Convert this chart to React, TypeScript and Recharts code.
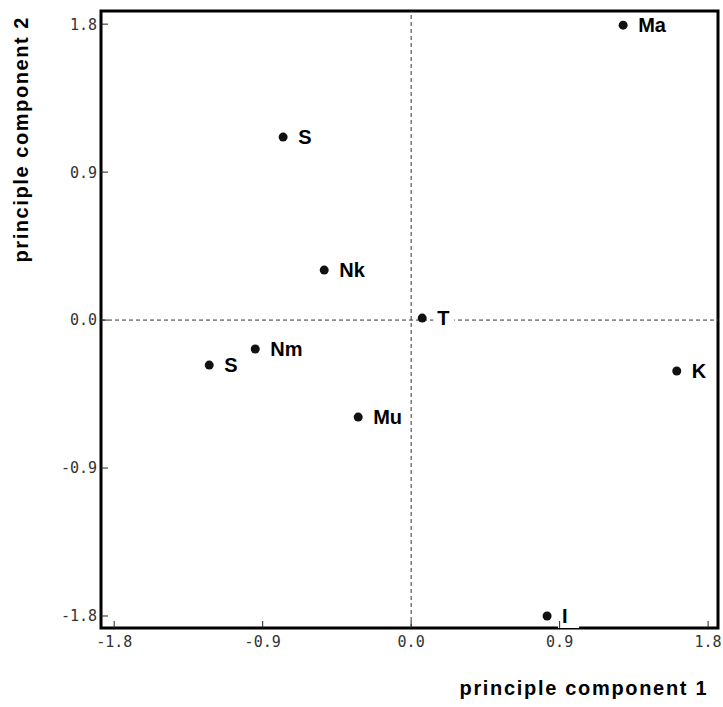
import React from 'react';
import { ScatterChart, Scatter, XAxis, YAxis, ReferenceLine, ReferenceArea } from 'recharts';

// sample names and their scores on the first two components
const names = ['Ma', 'S', 'Nk', 'T', 'Nm', 'S', 'Mu', 'K', 'I'];
const pc1 = [1.285, -0.776, -0.527, 0.067, -0.945, -1.224, -0.321, 1.61, 0.824];
const pc2 = [1.794, 1.113, 0.304, 0.012, -0.176, -0.274, -0.59, -0.31, -1.8];
const ticks = [-1.8, -0.9, 0, 0.9, 1.8];

const xDomain: [number, number] = [-1.88, 1.86];
const yDomain: [number, number] = [-1.873, 1.88];

const points = names.map((name, i) => ({ name, x: pc1[i], y: pc2[i] }));

const tickFont = '"DejaVu Sans Mono", monospace';
const labelFont = '"Liberation Sans", Arial, sans-serif';
const M = 6;

const XTick = (props: any) => {
  const { x, y, payload } = props;
  const ay = y - M;
  return (
    <g>
      <line x1={x} y1={ay} x2={x} y2={ay - 7} stroke="#222" strokeWidth={1} />
      <text x={x} y={ay + 19} textAnchor="middle" fontFamily={tickFont} fontSize={15} fill="#333">
        {payload.value.toFixed(1)}
      </text>
    </g>
  );
};

const YTick = (props: any) => {
  const { x, y, payload } = props;
  const ax = x + M;
  return (
    <g>
      <line x1={ax} y1={y} x2={ax + 7} y2={y} stroke="#222" strokeWidth={1} />
      <text x={ax - 4} y={y} dy="0.36em" textAnchor="end" fontFamily={tickFont} fontSize={15} fill="#333">
        {payload.value.toFixed(1)}
      </text>
    </g>
  );
};

const Dot = (props: any) => {
  const { cx, cy, payload } = props;
  const w = payload.name.length * 13 + 8;
  return (
    <g>
      <rect x={cx + 11} y={cy - 12} width={w} height={24} fill="#fff" />
      <circle cx={cx} cy={cy} r={4.5} fill="#111" />
      <text x={cx + 15} y={cy} dy="0.36em" fontFamily={labelFont} fontWeight="bold" fontSize={20} fill="#000">
        {payload.name}
      </text>
    </g>
  );
};

export default function App() {
  return (
    <div style={{ position: 'absolute', left: 0, top: 0, width: 723, height: 707, overflow: 'hidden' }}>
      <ScatterChart width={723} height={707} margin={{ top: 11, right: 5, bottom: 0, left: 0 }}>
        <XAxis
          type="number"
          dataKey="x"
          domain={xDomain}
          allowDataOverflow
          ticks={ticks}
          interval={0}
          height={79}
          tickSize={0}
          tickMargin={M}
          axisLine={false}
          tickLine={false}
          tick={<XTick />}
        />
        <YAxis
          type="number"
          dataKey="y"
          domain={yDomain}
          allowDataOverflow
          ticks={ticks}
          interval={0}
          width={101}
          tickSize={0}
          tickMargin={M}
          axisLine={false}
          tickLine={false}
          tick={<YTick />}
        />
        <ReferenceLine x={0} stroke="#333" strokeDasharray="4 3" />
        <ReferenceLine y={0} stroke="#333" strokeDasharray="4 3" />
        <Scatter data={points} shape={<Dot />} isAnimationActive={false} />
        <ReferenceArea
          x1={xDomain[0]}
          x2={xDomain[1]}
          y1={yDomain[0]}
          y2={yDomain[1]}
          fill="none"
          stroke="#000"
          strokeWidth={3}
          ifOverflow="visible"
        />
        <text
          x={583}
          y={695}
          textAnchor="middle"
          fontFamily={labelFont}
          fontWeight="bold"
          fontSize={20}
          textLength={247}
          fill="#000"
        >
          principle component  1
        </text>
        <text
          x={28}
          y={140}
          textAnchor="middle"
          transform="rotate(-90 28 140)"
          fontFamily={labelFont}
          fontWeight="bold"
          fontSize={20}
          textLength={245}
          fill="#000"
        >
          principle component  2
        </text>
      </ScatterChart>
    </div>
  );
}
